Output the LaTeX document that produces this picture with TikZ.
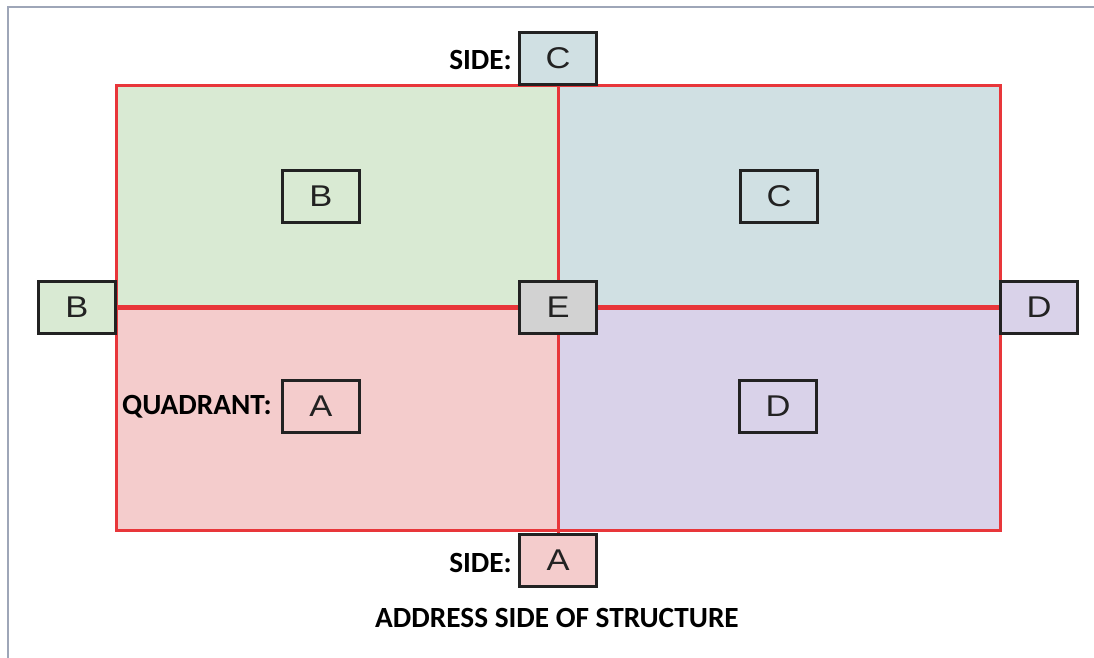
\documentclass[tikz,border=0pt]{standalone}
\usepackage{fontspec}
\setmainfont{Liberation Sans}
\newfontfamily\labelfont{Carlito}
\begin{document}
\begin{tikzpicture}[x=1pt,y=-1pt,
  letterbox/.style={draw=boxline,line width=3pt,minimum width=77pt,minimum height=52pt,
    inner sep=0pt,font=\fontsize{30}{32}\selectfont,text=boxline},
  caption/.style={font=\labelfont\bfseries\fontsize{29.3}{32}\selectfont,text=black,inner sep=0pt},
  wall/.style={draw=wallred,line width=3pt},
  divider/.style={draw=wallred,line width=5pt}]
\definecolor{qgreen}{HTML}{D9EAD3}
\definecolor{qblue}{HTML}{D0E0E3}
\definecolor{qred}{HTML}{F4CCCC}
\definecolor{qpurple}{HTML}{D9D2E9}
\definecolor{qgray}{HTML}{D2D2D2}
\definecolor{wallred}{HTML}{E8363A}
\definecolor{boxline}{HTML}{222222}
\definecolor{framegray}{HTML}{9EA6B8}
\newcommand{\wideletter}[1]{\scalebox{1.15}[1]{#1}}
\useasboundingbox (0,0) rectangle (1094,658);
\fill[white] (0,0) rectangle (1094,658);
% outer frame
\draw[framegray,line width=2.5pt] (8,658) -- (8,7) -- (1094,7);
% quadrants
\fill[qgreen]  (116,86)  rectangle (558,307);
\fill[qblue]   (558,86)  rectangle (1000,307);
\fill[qred]    (116,307) rectangle (558,530);
\fill[qpurple] (558,307) rectangle (1000,530);
\draw[wall] (116,86) rectangle (1000,530);
% side and centre markers
\node[letterbox,fill=qblue]   (sideC) at (558,58.5)  {\wideletter{C}};
\node[letterbox,fill=qgreen]  (sideB) at (77,307)    {\wideletter{B}};
\node[letterbox,fill=qgray]   (E)     at (558,307)   {\wideletter{E}};
\node[letterbox,fill=qpurple] (sideD) at (1039,307)  {\wideletter{D}};
\node[letterbox,fill=qred]    (sideA) at (558,560.5) {\wideletter{A}};
% dividers between the markers
\draw[wall] (sideC.south) -- (E.north);
\draw[wall] (E.south) -- (sideA.north);
\draw[divider] (sideB.east) -- (E.west);
\draw[divider] (E.east) -- (sideD.west);
% centre marker again, on top of the divider ends
\node[letterbox,fill=qgray] (Etop) at (E) {\wideletter{E}};
% quadrant markers
\node[letterbox] (qB) at (321,196)   {\wideletter{B}};
\node[letterbox] (qC) at (779,196)   {\wideletter{C}};
\node[letterbox] (qA) at (321,406)   {\wideletter{A}};
\node[letterbox] (qD) at (778,406.5) {\wideletter{D}};
% captions
\node[caption,anchor=east] (sidetop) at (512,60)  {SIDE:};
\node[caption,anchor=east] (sidebot) at (512,563) {SIDE:};
\node[caption,anchor=east] (quad)    at (272,407) {QUADRANT:};
\node[caption] (address) at (557,618) {ADDRESS SIDE OF STRUCTURE};
\end{tikzpicture}
\end{document}
